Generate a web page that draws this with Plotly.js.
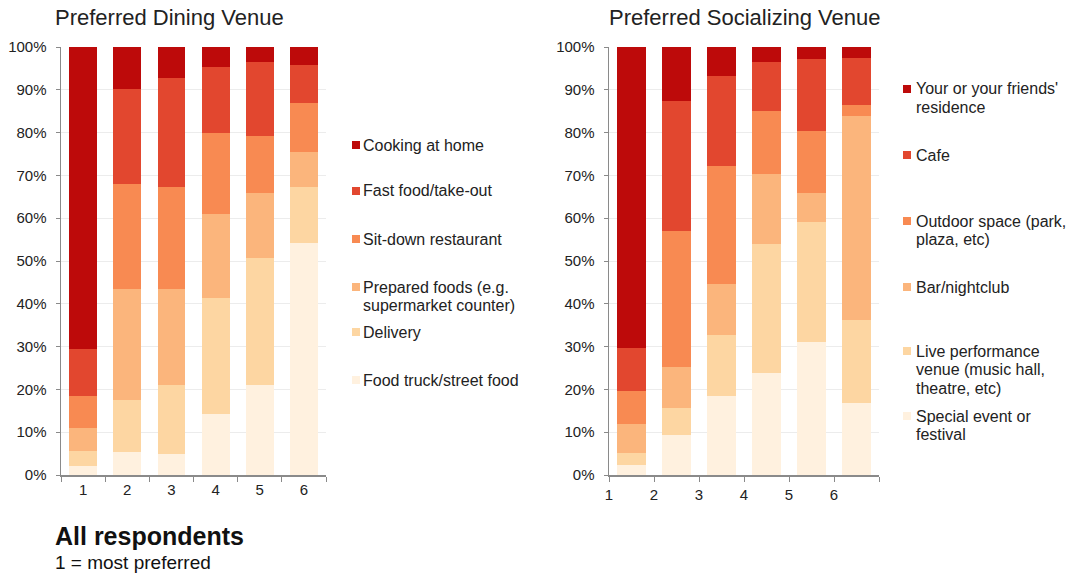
<!DOCTYPE html>
<html><head><meta charset="utf-8">
<script src="https://cdn.plot.ly/plotly-3.0.1.min.js"></script>
<style>html,body{margin:0;padding:0;background:#fff}#chart{width:1071px;height:573px}</style>
</head><body><div id="chart"></div>
<script>
// ---- Data ----
const ranks = ["1","2","3","4","5","6"];

// Dining venue (share of respondents at each rank, %)
const diningNames = ["Cooking at home","Fast food/take-out","Sit-down restaurant","Prepared foods (e.g.<br>supermarket counter)","Delivery","Food truck/street food"];
const diningCooking  = [70.5, 9.7, 7.3, 4.6, 3.5, 4.2];
const diningFastFood = [11.0, 22.4, 25.3, 15.6, 17.2, 8.9];
const diningSitDown  = [7.5, 24.5, 24.0, 18.9, 13.3, 11.4];
const diningPrepared = [5.5, 25.9, 22.4, 19.6, 15.4, 8.2];
const diningDelivery = [3.5, 12.1, 16.0, 27.0, 29.6, 13.2];
const diningTruck    = [2.0, 5.4, 5.0, 14.3, 21.0, 54.1];

// Socializing venue
const socialNames = ["Your or your friends'<br>residence","Cafe","Outdoor space (park,<br>plaza, etc)","Bar/nightclub","Live performance<br>venue (music hall,<br>theatre, etc)","Special event or<br>festival"];
const socialResidence = [70.4, 12.6, 6.8, 3.4, 2.9, 2.6];
const socialCafe      = [9.9, 30.5, 20.9, 11.5, 16.7, 10.9];
const socialOutdoor   = [7.8, 31.6, 27.7, 14.8, 14.4, 2.6];
const socialBar       = [6.8, 9.7, 11.9, 16.4, 7.0, 47.7];
const socialLive      = [2.8, 6.3, 14.2, 30.1, 27.9, 19.4];
const socialSpecial   = [2.3, 9.3, 18.5, 23.8, 31.1, 16.8];

const yTicks = [0,10,20,30,40,50,60,70,80,90,100];

// ---- Styling ----
const colors = ["#bd0a0a","#e2472f","#f88a52","#fbb57c","#fdd6a2","#fff1df"];
const fontFam = "Liberation Sans, Arial, Helvetica, sans-serif";

const diningSeries = [diningCooking, diningFastFood, diningSitDown, diningPrepared, diningDelivery, diningTruck];
const socialSeries = [socialResidence, socialCafe, socialOutdoor, socialBar, socialLive, socialSpecial];

const traces = [];
for (let i = diningSeries.length - 1; i >= 0; i--) {
  traces.push({type:'bar', x: ranks, y: diningSeries[i], name: diningNames[i],
    marker:{color: colors[i], line:{width:0}}, xaxis:'x', yaxis:'y', showlegend:false, hoverinfo:'skip'});
}
const rankNums = ranks.map(Number);
for (let i = socialSeries.length - 1; i >= 0; i--) {
  traces.push({type:'bar', x: rankNums, y: socialSeries[i], name: socialNames[i],
    marker:{color: colors[i], line:{width:0}}, xaxis:'x2', yaxis:'y2', showlegend:false, hoverinfo:'skip'});
}

const W = 1071, H = 573;
const px = v => v / W, py = v => 1 - v / H;

const yaxisBase = {
  range:[0,100], tickvals: yTicks, ticktext: yTicks.map(v => v + '%'),
  showgrid:true, gridcolor:'#ececec', gridwidth:1, zeroline:false,
  showline:true, linecolor:'#8a8a8a', linewidth:1.5, ticks:'outside', ticklen:4, tickcolor:'#8a8a8a',
  ticklabelstandoff:6,
  tickfont:{family:fontFam, size:15, color:'#222'}, fixedrange:true
};

const layout = {
  width: W, height: H, margin:{l:0,r:0,t:0,b:0},
  paper_bgcolor:'#fff', plot_bgcolor:'#fff',
  barmode:'stack', bargap:0.37, showlegend:false,
  font:{family:fontFam, color:'#222'},
  xaxis:{domain:[px(61), px(326)], type:'category', tickson:'boundaries', ticks:'outside', ticklen:5,
    tickcolor:'#8a8a8a', showline:true, linecolor:'#8a8a8a', linewidth:1.5, showgrid:false,
    tickfont:{family:fontFam, size:15, color:'#222'}, anchor:'y'},
  yaxis:Object.assign({}, yaxisBase, {domain:[py(475), py(47)], anchor:'x'}),
  xaxis2:{domain:[px(609), px(879)], range:[0.5,6.5], tickvals: rankNums.map(v => v - 0.5).concat([6.5]),
    ticktext: ranks.concat([""]), ticks:'outside', ticklen:5,
    tickcolor:'#8a8a8a', showline:true, linecolor:'#8a8a8a', linewidth:1.5, showgrid:false, zeroline:false,
    tickfont:{family:fontFam, size:15, color:'#222'}, anchor:'y2'},
  yaxis2:Object.assign({}, yaxisBase, {domain:[py(475), py(47)], anchor:'x2'}),
  annotations:[], shapes:[]
};

function txt(text, x, y, size, color) {
  layout.annotations.push({text:text, x:px(x), y:py(y), xref:'paper', yref:'paper',
    xanchor:'left', yanchor:'middle', showarrow:false, borderpad:0,
    font:{family:fontFam, size:size, color:color || '#222'}});
}
// Titles
txt('Preferred Dining Venue', 54, 17, 22);
txt('Preferred Socializing Venue', 608, 17, 22);
txt('<b>All respondents</b>', 54, 536, 25, '#111');
txt('1 = most preferred', 54, 562, 19, '#111');

// Custom legends (first-line y centres)
const diningLegendY = [145, 191, 239, 287, 332, 380];
const socialLegendY = [89, 155, 221, 287, 351, 416];
const lineH = 18.7;
function addLegend(names, ys, sqX, txtX) {
  names.forEach((n, i) => {
    const y0 = ys[i];
    layout.shapes.push({type:'rect', xref:'paper', yref:'paper', x0:px(sqX), x1:px(sqX+8),
      y0:py(y0+4), y1:py(y0-4), fillcolor:colors[i], line:{width:0}});
    n.split('<br>').forEach((line, k) => txt(line, txtX, y0 + k * lineH, 16));
  });
}
addLegend(diningNames, diningLegendY, 352, 362);
addLegend(socialNames, socialLegendY, 903, 915);

Plotly.newPlot('chart', traces, layout, {staticPlot:true, displayModeBar:false});
</script></body></html>
